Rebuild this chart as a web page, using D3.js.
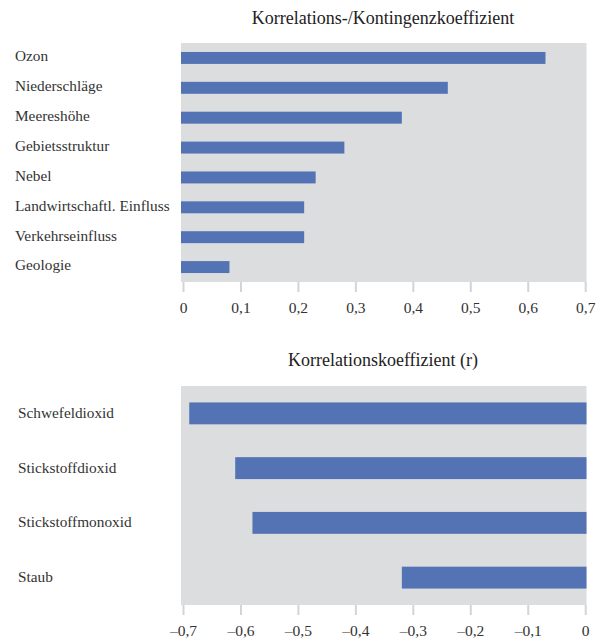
<!DOCTYPE html>
<html>
<head>
<meta charset="utf-8">
<script src="https://cdn.jsdelivr.net/npm/d3@7"></script>
<style>
	body { margin: 0; background: #fff; }
	svg { display: block; font-family: 'Liberation Serif', 'DejaVu Serif', serif; }
	.tick-mark { stroke: #d3d4d6; stroke-width: 2; }
</style>
</head>
<body>
<div id="chart"></div>
<script>
// top panel: Korrelations-/Kontingenzkoeffizient
const topCategories = ['Ozon', 'Niederschläge', 'Meereshöhe', 'Gebietsstruktur', 'Nebel',
	'Landwirtschaftl. Einfluss', 'Verkehrseinfluss', 'Geologie'];
const topValues = [0.63, 0.46, 0.38, 0.28, 0.23, 0.21, 0.21, 0.08];
const topTicks = [0, 0.1, 0.2, 0.3, 0.4, 0.5, 0.6, 0.7];

// bottom panel: Korrelationskoeffizient (r)
const bottomCategories = ['Schwefeldioxid', 'Stickstoffdioxid', 'Stickstoffmonoxid', 'Staub'];
const bottomValues = [-0.69, -0.61, -0.58, -0.32];
const bottomTicks = [-0.7, -0.6, -0.5, -0.4, -0.3, -0.2, -0.1, 0];

const width = 597;
const height = 641;
const barColor = '#5473b4';
const bgColor = '#dcdddf';

const fmt = v => (v < 0 ? '\u2013' : '') + String(Math.abs(+v.toFixed(1))).replace('.', ',');

const svg = d3.select('#chart').append('svg')
	.attr('width', width)
	.attr('height', height);

/**
 * @param {Object} opts
 */
function drawPanel(opts) {
	const g = svg.append('g');

	const x = d3.scaleLinear()
		.domain(opts.domain)
		.range([183.5, 585.7]);

	const y = d3.scaleBand()
		.domain(opts.categories)
		.range([opts.top, opts.bottom])
		.paddingInner(opts.padding)
		.paddingOuter(opts.padding / 2);

	g.append('text')
		.attr('x', 383)
		.attr('y', opts.titleY)
		.attr('text-anchor', 'middle')
		.attr('font-size', 18)
		.attr('fill', '#222')
		.text(opts.title);

	g.append('rect')
		.attr('x', 181)
		.attr('y', opts.top)
		.attr('width', 586.5 - 181)
		.attr('height', opts.bottom - opts.top)
		.attr('fill', bgColor);

	g.append('g')
		.selectAll('rect')
		.data(opts.values)
		.join('rect')
		.attr('x', d => d >= 0 ? 181 : x(d))
		.attr('y', (d, i) => y(opts.categories[i]))
		.attr('width', d => d >= 0 ? x(d) - 181 : 586.5 - x(d))
		.attr('height', y.bandwidth())
		.attr('fill', barColor);

	g.append('g')
		.selectAll('text')
		.data(opts.categories)
		.join('text')
		.attr('x', opts.labelX)
		.attr('y', d => y(d) + y.bandwidth() / 2)
		.attr('dy', opts.labelDy)
		.attr('font-size', 15.3)
		.attr('fill', '#333')
		.text(d => d);

	const axis = g.append('g')
		.attr('transform', `translate(0,${opts.bottom})`);

	axis.selectAll('line')
		.data(opts.ticks)
		.join('line')
		.attr('class', 'tick-mark')
		.attr('x1', d => x(d))
		.attr('x2', d => x(d))
		.attr('y1', 0)
		.attr('y2', 10);

	axis.selectAll('text')
		.data(opts.ticks)
		.join('text')
		.attr('x', d => x(d))
		.attr('y', 26)
		.attr('dy', '0.3em')
		.attr('text-anchor', 'middle')
		.attr('font-size', 15.5)
		.attr('fill', '#333')
		.text(fmt);
}

drawPanel({
	title: 'Korrelations-/Kontingenzkoeffizient',
	titleY: 24,
	categories: topCategories,
	values: topValues,
	ticks: topTicks,
	domain: [0, 0.7],
	top: 43,
	bottom: 282,
	padding: 0.6,
	labelX: 15,
	labelDy: '0.22em'
});

drawPanel({
	title: 'Korrelationskoeffizient (r)',
	titleY: 366,
	categories: bottomCategories,
	values: bottomValues,
	ticks: bottomTicks,
	domain: [-0.7, 0],
	top: 386,
	bottom: 605,
	padding: 0.6,
	labelX: 18,
	labelDy: '0.3em'
});
</script>
</body>
</html>
